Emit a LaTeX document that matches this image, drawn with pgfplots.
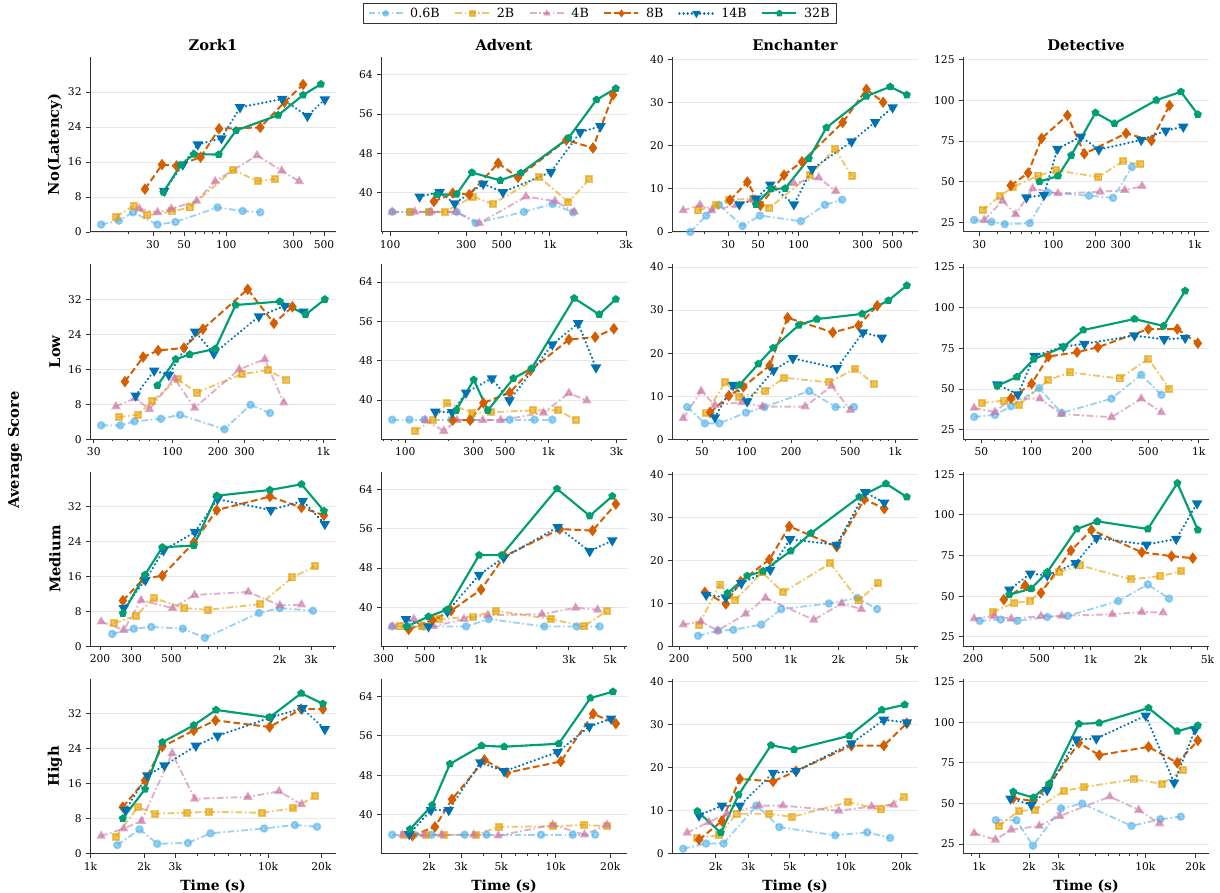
\documentclass[border=0pt]{standalone}
\usepackage{fontspec}
\setmainfont{DejaVu Serif}
\usepackage{pgfplots}
\pgfplotsset{compat=1.18}
\usetikzlibrary{plotmarks}
\definecolor{c06}{HTML}{56B4E9}
\definecolor{c2}{HTML}{E69F00}
\definecolor{c4}{HTML}{CC79A7}
\definecolor{c8}{HTML}{D55E00}
\definecolor{c14}{HTML}{0072B2}
\definecolor{c32}{HTML}{009E73}
\pgfplotsset{
 sA/.style={color=c06, opacity=0.6, line width=1.4pt, dash pattern=on 5pt off 2pt on 1.2pt off 2pt, mark=*, mark size=2.5pt, mark options={solid}},
 sB/.style={color=c2, opacity=0.6, line width=1.4pt, dash pattern=on 5pt off 2pt on 1.2pt off 2pt, mark=square*, mark size=2.3pt, mark options={solid}},
 sC/.style={color=c4, opacity=0.6, line width=1.4pt, dash pattern=on 5pt off 2pt on 1.2pt off 2pt, mark=triangle*, mark size=2.8pt, mark options={solid}},
 sD/.style={color=c8, line width=1.5pt, dash pattern=on 5pt off 2.5pt, mark=diamond*, mark size=3.1pt, mark options={solid}},
 sE/.style={color=c14, line width=1.8pt, dash pattern=on 0.1pt off 3pt, line cap=round, mark=triangle*, mark size=2.8pt, mark options={solid, rotate=180}},
 sF/.style={color=c32, line width=1.6pt, solid, mark=pentagon*, mark size=2.2pt},
 legend image code/.code={\draw[mark repeat=2,mark phase=2,#1,mark size=1.8pt] plot coordinates {(0pt,0pt) (12.75pt,0pt) (25.5pt,0pt)};},
 every axis/.append style={scale only axis, width=184.5pt, height=131.25pt, axis lines*=left, tick align=outside,
   ymajorgrids, grid style={draw=black!9, line width=0.6pt}, enlarge x limits=0.05,
   tick label style={font=\fontsize{8}{9}\selectfont},
   major tick length=2.8pt, minor tick length=1.6pt, tick style={black!80, line width=0.6pt},
   axis line style={black!80, line width=0.75pt},
   title style={font=\fontsize{11}{13}\selectfont\bfseries, at={(0.5,1)}, anchor=base, yshift=-1.25pt},
   ylabel style={font=\fontsize{11}{13}\selectfont\bfseries, at={(-0.1423,0.5)}, anchor=center},
   xlabel style={font=\fontsize{10.5}{12}\selectfont\bfseries}},
}
\begin{document}
\begin{tikzpicture}
\useasboundingbox (0,0) rectangle (915pt,669pt);
\node[rotate=90, font=\fontsize{11}{13}\selectfont\bfseries] at (11.25pt,331.5pt) {Average Score};
% ---------------- Row 1 ----------------
\begin{semilogxaxis}[ymin=0,ymax=40,ytick={0,8,16,24,32}, yticklabels={0,8,16,24,32}, at={(67.5pt,495pt)}, title={Zork1}, ylabel={No(Latency)},
 xtick={30,50,100,300,500}, xticklabels={30,50,100,300,500}, minor xtick={20,40,60,70,80,90,200,400},
 legend style={at={(2.073,1.31)}, anchor=north, draw=black!80, font=\fontsize{9.5}{11}\selectfont, inner xsep=3pt, inner ysep=1.5pt,
   /tikz/every odd column/.append style={column sep=3pt}, /tikz/every even column/.append style={column sep=9pt}}, legend columns=6]
\addplot[sA] coordinates {(12.8,1.7)(17.1,2.6)(21.6,4.5)(32.3,1.7)(43.4,2.3)(86.7,5.6)(131,4.8)(175,4.5)}; \addlegendentry{0.6B}
\addplot[sB] coordinates {(16.4,3.5)(21.8,6.0)(27.4,3.8)(40.9,4.7)(54.7,5.6)(112,14.2)(168,11.6)(223,12.1)}; \addlegendentry{2B}
\addplot[sC] coordinates {(24,5.3)(32.3,4.5)(40.5,5.3)(61.5,7.1)(83.4,11.6)(166,17.5)(249,14.0)(332,11.6)}; \addlegendentry{4B}
\addplot[sD] coordinates {(26.3,9.8)(34.8,15.4)(44.2,15.1)(65.6,17.1)(89,23.6)(175,23.9)(261,29.7)(354,33.7)}; \addlegendentry{8B}
\addplot[sE] coordinates {(36.1,9.4)(49,15.4)(62.7,20.0)(92.5,21.4)(125.5,28.5)(251,30.4)(380,26.5)(506,30.3)}; \addlegendentry{14B}
\addplot[sF] coordinates {(35.6,9.1)(47.4,15.3)(58.8,17.8)(88.4,17.7)(117.6,23.2)(235,26.7)(354,31.3)(474,33.8)}; \addlegendentry{32B}
\end{semilogxaxis}
\begin{semilogxaxis}[ymin=32,ymax=67.6,ytick={40,48,56,64}, yticklabels={40,48,56,64}, at={(285.75pt,495pt)}, title={Advent},
 xtick={100,300,500,1000,3000}, xticklabels={100,300,500,1k,3k}, minor xtick={90,200,400,600,700,800,900,2000}]
\addplot[sA] coordinates {(103,36.1)(133,36.1)(175,36.1)(261,36.1)(344,33.8)(690,36.1)(1040,37.7)(1400,36.0)};
\addplot[sB] coordinates {(133,36.1)(175,36.1)(220,36.1)(332,39.2)(439,37.7)(857,43.2)(1309,38.1)(1770,42.7)};
\addplot[sC] coordinates {(103,36.1)(143,36.1)(180,36.1)(258,36.1)(362,33.8)(709,39.2)(1077,38.3)(1425,36.1)};
\addplot[sD] coordinates {(188,38.2)(247,39.9)(313,39.6)(475,46.0)(633,43.1)(1270,50.7)(1864,49.1)(2494,59.9)};
\addplot[sE] coordinates {(153,39.2)(204,40.1)(254,37.8)(383,41.8)(509,40.1)(1017,44.2)(1552,52.3)(2078,53.5)};
\addplot[sF] coordinates {(196,39.6)(261,39.7)(325,44.1)(490,42.5)(659,44.0)(1309,51.1)(1963,58.9)(2594,61.2)};
\end{semilogxaxis}
\begin{semilogxaxis}[ymin=0,ymax=40.6,ytick={0,10,20,30,40}, yticklabels={0,10,20,30,40}, at={(504pt,495pt)}, title={Enchanter},
 xtick={30,50,100,300,500}, xticklabels={30,50,100,300,500}, minor xtick={20,40,60,70,80,90,200,400,600,700}]
\addplot[sA] coordinates {(15.6,0)(20.5,3.8)(25.5,6.3)(38.2,1.4)(51.5,3.8)(104,2.5)(157,6.3)(211,7.5)};
\addplot[sB] coordinates {(17.9,5.0)(24.1,6.2)(30.3,7.5)(45.6,7.7)(60.6,5.6)(122,13.2)(186,19.3)(248,13.1)};
\addplot[sC] coordinates {(13.8,5.0)(18.4,6.3)(22.5,5.0)(34.3,6.2)(45.6,7.7)(92.2,11.3)(141,12.6)(189,9.5)};
\addplot[sD] coordinates {(30.8,7.4)(41.5,11.6)(51.9,6.2)(77.8,13.2)(106,16.3)(213,25.4)(320,33.1)(426,30.1)};
\addplot[sE] coordinates {(36.2,6.4)(48.1,7.7)(61.4,11.0)(92.2,6.4)(126,14.6)(248,21.0)(372,25.5)(502,28.9)};
\addplot[sF] coordinates {(48.1,6.4)(62.2,10.0)(79.4,10.1)(119,17.0)(161,24.2)(320,31.5)(481,33.7)(640,31.8)};
\end{semilogxaxis}
\begin{semilogxaxis}[ymin=19,ymax=126.6,ytick={25,50,75,100,125}, yticklabels={25,50,75,100,125}, at={(722.25pt,495pt)}, title={Detective},
 xtick={30,100,200,300,1000}, xticklabels={30,100,200,300,1k}, minor xtick={40,50,60,70,80,90,400,500,600,700,800,900}]
\addplot[sA] coordinates {(27.6,26.4)(36.6,25.2)(45.4,23.8)(68.1,24.4)(91.7,43.3)(179,41.3)(265,40.0)(360,58.9)};
\addplot[sB] coordinates {(31.6,32.5)(42.1,41.1)(52.2,46.7)(78.4,53.7)(105,56.9)(209,52.8)(311,62.4)(414,60.6)};
\addplot[sC] coordinates {(32.5,26.4)(43.8,38.2)(54.3,29.9)(71.5,45.7)(108,42.7)(215,43.7)(321,44.7)(425,47.2)};
\addplot[sD] coordinates {(50.1,47.6)(66.4,55.3)(82.8,76.6)(126,90.7)(166,67.1)(328,79.7)(495,75.2)(664,96.8)};
\addplot[sE] coordinates {(64.6,40.2)(85.9,41.7)(107,70.1)(157,77.6)(210,69.7)(419,75.6)(625,81.3)(832,83.7)};
\addplot[sF] coordinates {(80,50.0)(108,53.4)(134,66.1)(199,92.3)(271,85.7)(537,100.1)(800,105.2)(1054,91.3)};
\end{semilogxaxis}
% ---------------- Row 2 ----------------
\begin{semilogxaxis}[ymin=0,ymax=40,ytick={0,8,16,24,32}, yticklabels={0,8,16,24,32}, at={(67.5pt,339.5pt)}, ylabel={Low},
 xtick={30,100,200,300,1000}, xticklabels={30,100,200,300,1k}, minor xtick={40,50,60,70,80,90,400,500,600,700,800,900}]
\addplot[sA] coordinates {(33.6,3.2)(45,3.2)(55.9,4.1)(83.7,4.7)(112,5.6)(221,2.3)(329,7.9)(443,6.0)};
\addplot[sB] coordinates {(43.9,5.1)(58.6,5.6)(73.3,8.7)(108,13.7)(145,10.7)(288,14.9)(429,15.8)(570,13.6)};
\addplot[sC] coordinates {(42.1,7.5)(56.5,9.4)(70.2,6.9)(103,13.9)(140,7.2)(277,16.0)(409,18.3)(547,8.4)};
\addplot[sD] coordinates {(48.3,13.2)(63.8,18.8)(80.2,20.3)(119,20.9)(159,25.2)(315,34.3)(470,26.5)(624,30.3)};
\addplot[sE] coordinates {(56.9,10.0)(75.5,15.7)(94.4,14.7)(141,24.6)(188,19.6)(374,28.1)(554,30.5)(740,29.2)};
\addplot[sF] coordinates {(79.3,12.3)(105,18.3)(130,19.4)(192,20.7)(262,30.7)(515,31.5)(763,28.5)(1024,32.0)};
\end{semilogxaxis}
\begin{semilogxaxis}[ymin=32,ymax=67.6,ytick={40,48,56,64}, yticklabels={40,48,56,64}, at={(285.75pt,339.5pt)},
 xtick={100,300,500,1000,3000}, xticklabels={100,300,500,1k,3k}, minor xtick={70,80,90,200,400,600,700,800,900,2000}]
\addplot[sA] coordinates {(81,36)(107,36)(136,36)(210,36)(287,36)(538,36)(800,36)(1067,36)};
\addplot[sB] coordinates {(117,33.7)(156,35.9)(197,39.4)(293,37.4)(395,37.5)(784,37.9)(1172,37.9)(1563,35.9)};
\addplot[sC] coordinates {(138,35.9)(186,33.7)(230,35.9)(348,35.9)(464,35.9)(926,37.4)(1394,41.4)(1858,39.9)};
\addplot[sD] coordinates {(215,35.9)(284,35.9)(352,39.4)(538,41.5)(750,46.0)(1394,52.3)(2128,52.8)(2872,54.5)};
\addplot[sE] coordinates {(162,37.6)(213,37.5)(266,41.5)(403,44.4)(535,39.9)(1067,51.3)(1616,55.6)(2154,46.6)};
\addplot[sF] coordinates {(227,37.9)(301,44.1)(378,37.9)(570,44.4)(764,46.4)(1517,60.7)(2270,57.4)(2966,60.5)};
\end{semilogxaxis}
\begin{semilogxaxis}[ymin=0,ymax=40.6,ytick={0,10,20,30,40}, yticklabels={0,10,20,30,40}, at={(504pt,339.5pt)},
 xtick={50,100,200,500,1000}, xticklabels={50,100,200,500,1k}, minor xtick={40,60,70,80,90,300,400,600,700,800,900}]
\addplot[sA] coordinates {(39.8,7.5)(52.4,3.7)(65.5,3.7)(99,6.2)(132,7.5)(264,11.2)(398,7.5)(529,7.5)};
\addplot[sB] coordinates {(53.5,6.2)(71.8,13.2)(89.5,9.9)(134,11.2)(179,14.3)(359,13.2)(541,16.4)(722,12.8)};
\addplot[sC] coordinates {(37.4,4.9)(49.4,11.2)(61.2,7.9)(92.9,8.6)(128,7.6)(248,7.6)(374,12.4)(500,6.8)};
\addplot[sD] coordinates {(56.9,6.2)(75.9,10.1)(95.2,12.2)(143,17.1)(189,28.2)(381,24.8)(568,26.4)(759,31.0)};
\addplot[sE] coordinates {(61.2,5.1)(81.2,12.6)(101,8.8)(152,16.0)(205,18.8)(406,16.5)(608,24.8)(817,23.6)};
\addplot[sF] coordinates {(89.5,12.6)(120,17.5)(151,21.2)(225,26.5)(298,27.9)(602,29.1)(902,32.2)(1202,35.7)};
\end{semilogxaxis}
\begin{semilogxaxis}[ymin=19,ymax=126.6,ytick={25,50,75,100,125}, yticklabels={25,50,75,100,125}, at={(722.25pt,339.5pt)},
 xtick={50,100,200,500,1000}, xticklabels={50,100,200,500,1k}, minor xtick={40,60,70,80,90,300,400,600,700,800,900}]
\addplot[sA] coordinates {(45.3,32.8)(60.3,34.0)(75.3,39.3)(111,50.5)(151,35.2)(301,44.0)(453,58.7)(598,46.4)};
\addplot[sB] coordinates {(50.6,41.3)(68.2,42.8)(84,40.1)(126,55.6)(170,60.1)(336,56.4)(500,68.5)(668,50.1)};
\addplot[sC] coordinates {(45.3,38.3)(60.3,35.8)(75.3,44.0)(112,44.0)(151,34.6)(301,32.6)(453,44.0)(598,35.6)};
\addplot[sD] coordinates {(75.3,44.2)(100,53.2)(126,69.9)(187,72.6)(249,75.6)(500,86.8)(745,86.8)(989,78.1)};
\addplot[sE] coordinates {(62.2,52.8)(82.7,46.6)(104,70.3)(155,76.0)(207,77.7)(413,82.8)(622,80.5)(830,81.3)};
\addplot[sF] coordinates {(62.2,51.9)(81.7,57.4)(103,68.3)(155,75.8)(204,86.2)(413,93.0)(616,88.7)(830,110.3)};
\end{semilogxaxis}
% ---------------- Row 3 ----------------
\begin{semilogxaxis}[ymin=0,ymax=40,ytick={0,8,16,24,32}, yticklabels={0,8,16,24,32}, at={(67.5pt,184.05pt)}, ylabel={Medium},
 xtick={200,300,500,2000,3000}, xticklabels={200,300,500,2k,3k}, minor xtick={400,600,700,800,900,1000,4000}]
\addplot[sA] coordinates {(234,2.9)(309,4.1)(386,4.5)(579,4.1)(769,2.0)(1538,7.7)(2011,8.8)(3077,8.2)};
\addplot[sB] coordinates {(240,5.4)(317,7.0)(398,11.1)(591,8.8)(796,8.4)(1560,9.7)(2363,15.8)(3158,18.4)};
\addplot[sC] coordinates {(203,5.7)(271,3.8)(339,10.6)(508,8.8)(673,11.8)(1340,12.5)(2011,9.4)(2655,9.6)};
\addplot[sD] coordinates {(268,10.5)(349,15.5)(445,16.2)(667,23.8)(895,31.2)(1772,34.3)(2655,31.8)(3542,30.0)};
\addplot[sE] coordinates {(271,8.8)(358,15.2)(452,22.0)(677,26.2)(904,33.7)(1791,31.2)(2698,33.3)(3583,28.0)};
\addplot[sF] coordinates {(268,7.6)(356,16.4)(445,22.7)(667,23.1)(895,34.5)(1772,35.8)(2655,37.1)(3542,31.0)};
\end{semilogxaxis}
\begin{semilogxaxis}[ymin=32,ymax=67.6,ytick={40,48,56,64}, yticklabels={40,48,56,64}, at={(285.75pt,184.05pt)},
 xtick={300,500,1000,3000,5000}, xticklabels={300,500,1k,3k,5k}, minor xtick={400,600,700,800,900,2000,4000,6000}]
\addplot[sA] coordinates {(333,36.1)(411,36.1)(493,36.1)(835,36.1)(1105,37.6)(2211,36.1)(3311,36.1)(4402,36.1)};
\addplot[sB] coordinates {(365,36.1)(481,36.1)(597,37.6)(907,38.1)(1207,39.3)(2405,37.6)(3617,36.1)(4833,39.3)};
\addplot[sC] coordinates {(333,36.1)(436,37.6)(555,36.1)(814,37.6)(1094,38.4)(2148,38.6)(3262,39.9)(4295,39.5)};
\addplot[sD] coordinates {(409,35.5)(550,37.4)(693,39.3)(1006,43.6)(1347,50.4)(2681,55.9)(4030,55.6)(5383,61.0)};
\addplot[sE] coordinates {(395,37.6)(523,36.1)(662,39.1)(982,46.6)(1331,50.1)(2612,56.3)(3890,51.4)(5151,53.6)};
\addplot[sF] coordinates {(399,36.1)(523,38.1)(659,39.5)(982,50.6)(1300,50.6)(2588,64.1)(3890,58.6)(5151,62.6)};
\end{semilogxaxis}
\begin{semilogxaxis}[ymin=0,ymax=40.6,ytick={0,10,20,30,40}, yticklabels={0,10,20,30,40}, at={(504pt,184.05pt)},
 xtick={200,500,1000,2000,5000}, xticklabels={200,500,1k,2k,5k}, minor xtick={300,400,600,700,800,900,3000,4000,6000}]
\addplot[sA] coordinates {(263,2.5)(350,3.7)(438,3.9)(655,5.1)(877,8.7)(1743,10.0)(2632,11.3)(3506,8.7)};
\addplot[sB] coordinates {(266,5.1)(359,14.4)(446,10.7)(666,17.2)(897,12.6)(1782,19.3)(2679,10.7)(3568,14.7)};
\addplot[sC] coordinates {(212,5.1)(274,5.8)(350,3.7)(523,7.6)(697,11.3)(1402,6.2)(2095,10.0)(2789,8.7)};
\addplot[sD] coordinates {(290,12.6)(393,9.9)(487,15.1)(738,20.2)(984,27.9)(1954,23.2)(2917,34.2)(3888,32.0)};
\addplot[sE] coordinates {(296,12.0)(393,11.4)(492,14.7)(747,17.8)(994,24.9)(1954,23.6)(2951,35.8)(3888,33.4)};
\addplot[sF] coordinates {(402,12.4)(535,16.4)(674,17.5)(1005,22.2)(1345,26.3)(2708,34.7)(3981,37.8)(5388,34.7)};
\end{semilogxaxis}
\begin{semilogxaxis}[ymin=19,ymax=126.6,ytick={25,50,75,100,125}, yticklabels={25,50,75,100,125}, at={(722.25pt,184.05pt)},
 xtick={200,500,1000,2000,5000}, xticklabels={200,500,1k,2k,5k}, minor xtick={300,400,600,700,800,900,3000,4000}]
\addplot[sA] coordinates {(219,34.8)(292,35.6)(367,34.8)(554,37.2)(734,37.9)(1469,47.0)(2205,57.2)(2953,48.5)};
\addplot[sB] coordinates {(262,40.3)(353,46.0)(439,46.8)(651,64.8)(873,68.9)(1746,60.3)(2622,62.3)(3494,65.4)};
\addplot[sC] coordinates {(203,36.2)(267,37.7)(338,36.2)(508,37.7)(677,37.9)(1354,38.9)(2032,40.3)(2721,39.9)};
\addplot[sD] coordinates {(305,47.9)(409,56.6)(508,51.9)(767,78.1)(1017,90.7)(2032,77.0)(3057,74.6)(4091,73.4)};
\addplot[sE] coordinates {(329,54.0)(439,63.8)(554,62.8)(818,70.3)(1090,85.8)(2168,81.7)(3259,85.2)(4340,107.0)};
\addplot[sF] coordinates {(329,50.9)(443,54.6)(554,64.8)(832,91.3)(1102,96.0)(2205,91.3)(3311,119.5)(4386,90.7)};
\end{semilogxaxis}
% ---------------- Row 4 ----------------
\begin{semilogxaxis}[ymin=0,ymax=40,ytick={0,8,16,24,32}, yticklabels={0,8,16,24,32}, at={(67.5pt,28.6pt)}, ylabel={High}, xlabel={Time (s)},
 xtick={1000,2000,3000,10000,20000}, xticklabels={1k,2k,3k,10k,20k}, minor xtick={4000,5000,6000,7000,8000,9000}]
\addplot[sA] coordinates {(1416,2.0)(1888,5.6)(2378,2.3)(3540,2.5)(4743,4.7)(9506,5.8)(14160,6.6)(18880,6.2)};
\addplot[sB] coordinates {(1387,3.9)(1848,10.7)(2314,9.2)(3498,9.4)(4642,9.6)(9207,9.4)(13870,10.4)(18370,13.2)};
\addplot[sC] coordinates {(1148,4.1)(1537,5.8)(1935,7.5)(2884,23.0)(3862,12.6)(7704,13.0)(11540,14.3)(15450,11.3)};
\addplot[sD] coordinates {(1520,10.7)(2027,16.8)(2537,24.5)(3819,28.2)(5058,30.5)(10210,29.0)(15370,33.1)(20370,33.1)};
\addplot[sE] coordinates {(1570,10.0)(2089,17.9)(2608,20.2)(3921,24.7)(5200,27.0)(10420,31.2)(15600,33.3)(20890,28.5)};
\addplot[sF] coordinates {(1520,8.1)(2027,14.8)(2537,25.5)(3819,29.4)(5093,32.9)(10210,31.2)(15370,36.7)(20370,34.3)};
\end{semilogxaxis}
\begin{semilogxaxis}[ymin=32,ymax=67.6,ytick={40,48,56,64}, yticklabels={40,48,56,64}, at={(285.75pt,28.6pt)}, xlabel={Time (s)},
 xtick={2000,3000,5000,10000,20000}, xticklabels={2k,3k,5k,10k,20k}, minor xtick={4000,6000,7000,8000,9000}]
\addplot[sA] coordinates {(1253,35.9)(1660,35.9)(2070,35.9)(3147,35.9)(4150,35.9)(8300,35.9)(12410,35.9)(16520,35.9)};
\addplot[sB] coordinates {(1456,35.9)(1930,35.9)(2422,35.9)(3620,35.9)(4870,37.5)(9640,37.6)(14410,37.9)(19190,37.6)};
\addplot[sC] coordinates {(1428,35.9)(1884,35.9)(2351,35.9)(3530,35.9)(4823,35.7)(9640,37.9)(14410,35.9)(19190,37.9)};
\addplot[sD] coordinates {(1619,35.7)(2157,37.5)(2680,43.1)(4047,51.1)(5389,48.5)(10670,50.8)(16100,60.5)(21470,58.5)};
\addplot[sE] coordinates {(1555,36.0)(2051,40.9)(2571,40.9)(3843,50.6)(5197,48.8)(10250,52.7)(15320,57.9)(20200,59.5)};
\addplot[sF] coordinates {(1570,37.0)(2081,41.9)(2611,50.3)(3900,54.0)(5197,53.8)(10400,54.4)(15550,63.7)(20700,65.0)};
\end{semilogxaxis}
\begin{semilogxaxis}[ymin=0,ymax=40.6,ytick={0,10,20,30,40}, yticklabels={0,10,20,30,40}, at={(504pt,28.6pt)}, xlabel={Time (s)},
 xtick={2000,3000,5000,10000,20000}, xticklabels={2k,3k,5k,10k,20k}, minor xtick={4000,6000,7000,8000,9000}]
\addplot[sA] coordinates {(1339,1.2)(1778,2.4)(2206,2.4)(3312,11.2)(4400,6.2)(8790,4.3)(13070,5.0)(17350,3.7)};
\addplot[sB] coordinates {(1589,3.7)(2081,4.3)(2592,9.3)(3893,9.3)(5173,8.6)(10270,12.0)(15500,10.3)(20490,13.1)};
\addplot[sC] coordinates {(1406,4.9)(1842,7.4)(2294,9.3)(3428,11.2)(4600,11.2)(9180,10.0)(13780,11.0)(18120,11.4)};
\addplot[sD] coordinates {(1629,3.3)(2163,7.6)(2698,17.4)(4074,16.8)(5411,19.2)(10740,25.1)(16040,25.1)(21330,30.3)};
\addplot[sE] coordinates {(1629,8.9)(2163,11.2)(2698,11.2)(4074,18.8)(5411,19.2)(10740,25.6)(16040,31.1)(21330,30.5)};
\addplot[sF] coordinates {(1596,9.9)(2131,4.9)(2656,13.7)(3970,25.2)(5279,24.2)(10470,27.4)(15660,33.4)(20790,34.6)};
\end{semilogxaxis}
\begin{semilogxaxis}[ymin=19,ymax=126.6,ytick={25,50,75,100,125}, yticklabels={25,50,75,100,125}, at={(722.25pt,28.6pt)}, xlabel={Time (s)},
 xtick={1000,2000,3000,10000,20000}, xticklabels={1k,2k,3k,10k,20k}, minor xtick={900,4000,5000,6000,7000,8000,9000}]
\addplot[sA] coordinates {(1264,39.7)(1679,39.7)(2112,24.0)(3113,47.0)(4178,49.9)(8260,36.2)(12300,40.3)(16330,41.9)};
\addplot[sB] coordinates {(1314,36.2)(1745,45.4)(2170,46.0)(3229,57.7)(4291,60.1)(8489,64.8)(12640,62.1)(16790,70.5)};
\addplot[sC] coordinates {(937,31.7)(1257,27.7)(1564,33.8)(2305,36.2)(3063,42.3)(6119,54.2)(9120,46.0)(12170,37.7)};
\addplot[sD] coordinates {(1608,53.2)(2123,51.5)(2641,61.3)(3982,87.2)(5287,79.7)(10450,84.8)(15560,75.0)(20670,88.7)};
\addplot[sE] coordinates {(1548,53.0)(2066,49.1)(2570,58.1)(3848,89.3)(5078,89.9)(10050,104.0)(14890,62.8)(19900,95.4)};
\addplot[sF] coordinates {(1608,57.2)(2123,53.6)(2641,62.1)(3982,98.9)(5287,99.5)(10450,108.7)(15560,94.4)(20670,97.9)};
\end{semilogxaxis}
\end{tikzpicture}
\end{document}
